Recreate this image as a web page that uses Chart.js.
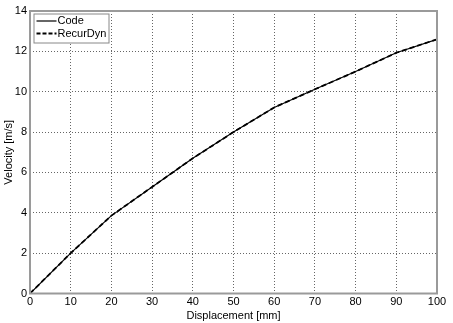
<!DOCTYPE html>
<html lang="en">
<head>
  <meta charset="UTF-8" />
  <title>Velocity vs Displacement</title>
  <script src="https://cdn.jsdelivr.net/npm/chart.js"></script>
  <style>
    html, body { margin: 0; padding: 0; background: #fff; }
    #wrap { width: 453px; height: 323px; position: relative; }
  </style>
</head>
<body>
  <div id="wrap"><canvas id="velChart"></canvas></div>

  <script>
    // values
    const displacement = [0, 10, 20, 30, 40, 50, 60, 70, 80, 90, 100];
    const codeVelocity = [0, 2.0, 3.86, 5.28, 6.7, 8.0, 9.22, 10.12, 11.0, 11.93, 12.6];
    const recurDynVelocity = [0, 2.0, 3.86, 5.28, 6.7, 8.0, 9.22, 10.12, 11.0, 11.93, 12.6];
    const seriesNames = ['Code', 'RecurDyn'];

    const font = { family: 'Arial, "Liberation Sans", sans-serif', size: 11 };

    function toPoints(xs, ys) {
      return xs.map((x, i) => ({ x: x, y: ys[i] }));
    }

    // box around the axes + legend inside, matlab style
    const boxAndLegend = {
      id: 'boxAndLegend',
      afterDatasetsDraw(chart) {
        const { ctx, chartArea: a } = chart;
        ctx.save();
        ctx.strokeStyle = '#9a9a9a';
        ctx.lineWidth = 2;
        ctx.strokeRect(a.left, a.top, a.right - a.left, a.bottom - a.top);

        // legend
        const lx = a.left + 3.5, ly = a.top + 2.5, lw = 75, lh = 29;
        ctx.fillStyle = '#fff';
        ctx.fillRect(lx, ly, lw, lh);
        ctx.strokeStyle = '#888';
        ctx.lineWidth = 1;
        ctx.strokeRect(lx + 0.5, ly + 0.5, lw, lh);

        ctx.strokeStyle = '#000';
        ctx.fillStyle = '#000';
        ctx.font = '11px Arial, "Liberation Sans", sans-serif';
        ctx.textBaseline = 'middle';
        ctx.textAlign = 'left';

        ctx.lineWidth = 1.2;
        ctx.setLineDash([]);
        ctx.beginPath();
        ctx.moveTo(lx + 3, ly + 7.5);
        ctx.lineTo(lx + 23, ly + 7.5);
        ctx.stroke();
        ctx.fillText(seriesNames[0], lx + 24, ly + 7.5);

        ctx.lineWidth = 2;
        ctx.setLineDash([4, 2]);
        ctx.beginPath();
        ctx.moveTo(lx + 3, ly + 20);
        ctx.lineTo(lx + 23, ly + 20);
        ctx.stroke();
        ctx.setLineDash([]);
        ctx.fillText(seriesNames[1], lx + 24, ly + 20);
        ctx.restore();
      }
    };

    new Chart(document.getElementById('velChart'), {
      type: 'line',
      data: {
        datasets: [{
          label: seriesNames[0],
          data: toPoints(displacement, codeVelocity),
          borderColor: '#000',
          borderWidth: 1.2,
          pointRadius: 0,
          tension: 0,
          fill: false
        }, {
          label: seriesNames[1],
          data: toPoints(displacement, recurDynVelocity),
          borderColor: '#000',
          borderWidth: 1.8,
          borderDash: [5, 3],
          pointRadius: 0,
          tension: 0,
          fill: false
        }]
      },
      plugins: [boxAndLegend],
      options: {
        responsive: true,
        maintainAspectRatio: false,
        animation: false,
        layout: { padding: { top: 11, right: 16, left: 0, bottom: 0 } },
        plugins: { legend: { display: false }, tooltip: { enabled: false } },
        scales: {
          x: {
            type: 'linear',
            min: 0, max: 100,
            ticks: { stepSize: 10, color: '#000', font, padding: 2, maxRotation: 0 },
            grid: { color: '#666', lineWidth: 1, drawTicks: false },
            border: { display: false, dash: [1, 2] },
            title: { display: true, text: 'Displacement [mm]', color: '#000', font, padding: { top: 0, bottom: 0 } },
            afterFit(s) { s.height = 29.5; }
          },
          y: {
            min: 0, max: 14,
            ticks: { stepSize: 2, color: '#000', font, padding: 3 },
            grid: { color: '#666', lineWidth: 1, drawTicks: false },
            border: { display: false, dash: [1, 2] },
            title: { display: true, text: 'Velocity [m/s]', color: '#000', font, padding: { top: 2, bottom: 0 } },
            afterFit(s) { s.width = 30; }
          }
        }
      }
    });
  </script>
</body>
</html>
